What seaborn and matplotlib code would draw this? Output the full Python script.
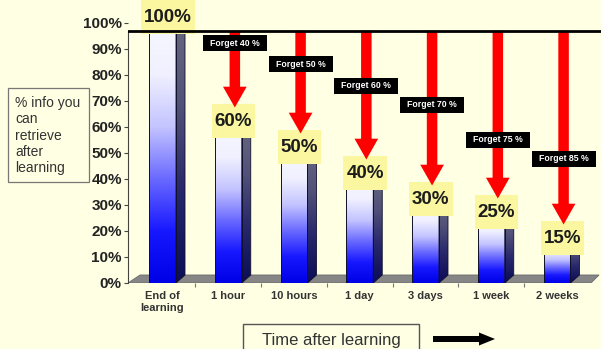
import numpy as np
import pandas as pd
import matplotlib
matplotlib.use("Agg")
import matplotlib.pyplot as plt
import seaborn as sns
from matplotlib.patches import Polygon, Rectangle, FancyArrow
from matplotlib.colors import LinearSegmentedColormap

# ---------------- data ----------------
categories = ["End of\nlearning", "1 hour", "10 hours", "1 day", "3 days", "1 week", "2 weeks"]
retained = [100, 60, 50, 40, 30, 25, 15]
value_labels = ["100%", "60%", "50%", "40%", "30%", "25%", "15%"]
forget_labels = ["Forget 40 %", "Forget 50 %", "Forget 60 %", "Forget 70 %", "Forget 75 %", "Forget 85 %"]
forget_label_y = [92.3, 84.2, 75.8, 68.5, 55, 47.7]
y_ticks = [0, 10, 20, 30, 40, 50, 60, 70, 80, 90, 100]
y_tick_labels = ["0%", "10%", "20%", "30%", "40%", "50%", "60%", "70%", "80%", "90%", "100%"]
y_box_text = "% info you\ncan\nretrieve\nafter\nlearning"
x_box_text = "Time after learning"

# ---------------- style ----------------
BG = "#FFFFE3"
LABEL_BG = "#FAF7A0"
sns.set_style("white")
plt.rcParams["font.family"] = ["Liberation Sans", "DejaVu Sans"]

W, H = 601, 349
fig = plt.figure(figsize=(W / 100, H / 100), dpi=100, facecolor=BG)
ax = fig.add_axes([128 / W, 66 / H, (W - 128) / W, 104 * 2.6 / H])
ax.set_facecolor("none")

df = pd.DataFrame({"when": categories, "pct": retained})
sns.barplot(data=df, x="when", y="pct", width=0.41, color="#0000FF", saturation=1,
            edgecolor="#10102a", linewidth=0.7, ax=ax, zorder=3)

front_cmap = LinearSegmentedColormap.from_list(
    "front", ["#0000E6", "#1818FF", "#6A6AFF", "#C4C4FF", "#F0F0FF", "#F8F8FF"])
side_cmap = LinearSegmentedColormap.from_list(
    "side", ["#0c0c58", "#26266a", "#52527a", "#6a6a80"])
grad = np.linspace(0, 1, 256).reshape(-1, 1)

DX = 0.137   # depth offset (x units)
DY = 3.08    # depth offset (% units)

# floor
floor = Polygon([(-0.525, 0), (-0.342, DY), (6.639, DY), (6.517, 0)], closed=True,
                facecolor="#868686", edgecolor="#6a6a6a", lw=0.6, zorder=1)
ax.add_patch(floor)

for bar in ax.containers[0]:
    x0 = bar.get_x()
    w = bar.get_width()
    h = bar.get_height()
    x1 = x0 + w
    bar.set_facecolor("none")
    im = ax.imshow(grad, extent=[x0, x1, 0, h], origin="lower", aspect="auto",
                   cmap=front_cmap, zorder=2, interpolation="bilinear")
    im.set_clip_path(bar)
    side = Polygon([(x1, 0), (x1 + DX, DY), (x1 + DX, h + DY), (x1, h)], closed=True,
                   facecolor="none", edgecolor="#10102a", lw=0.6, zorder=3)
    ax.add_patch(side)
    ims = ax.imshow(grad, extent=[x1, x1 + DX, 0, h + DY], origin="lower", aspect="auto",
                    cmap=side_cmap, zorder=2, interpolation="bilinear")
    ims.set_clip_path(side)

ax.set_xlim(-0.525, (W - 162.5) / 65.75)
ax.set_ylim(0, 104)

# value labels
value_texts = []
for i, (v, lbl) in enumerate(zip(retained, value_labels)):
    t = ax.text(i + 0.08, v + 2.3, lbl, ha="center", va="center", fontsize=13.5,
                fontweight="bold", color="#1c1c1c", zorder=5.2)
    value_texts.append(t)

# red arrows and forget labels
forget_texts = []
for i in range(1, len(retained)):
    tip = retained[i] + 7.5
    arr = FancyArrow(i + 0.1, 97, 0, tip - 97, width=0.16, head_width=0.36,
                     head_length=8, length_includes_head=True,
                     fc="#FF0000", ec="none", zorder=5.5)
    ax.add_patch(arr)
    t = ax.text(i + 0.1, forget_label_y[i - 1], forget_labels[i - 1], ha="center", va="center",
                fontsize=6.3, fontweight="bold", color="white", zorder=7.2)
    forget_texts.append(t)

# top line
ax.axhline(97, color="black", lw=2, zorder=6)

for s in ["top", "right", "bottom"]:
    ax.spines[s].set_visible(False)
ax.spines["left"].set_bounds(0, 97)
ax.spines["left"].set_color("#444444")
ax.spines["left"].set_linewidth(0.8)

ax.set_yticks(y_ticks)
ax.set_yticklabels(y_tick_labels, fontsize=11, fontweight="bold", color="#222222")
ax.tick_params(axis="y", left=True, length=3, width=0.8, color="#444444", pad=1.5)

ax.set_xticks(range(len(categories)))
ax.set_xticklabels(categories, fontsize=8, fontweight="bold", color="#333333", linespacing=1.25)
ax.set_xticks(np.arange(0.5, len(categories) - 1, 1), minor=True)
ax.tick_params(axis="x", which="major", length=0, pad=5.5)
ax.tick_params(axis="x", which="minor", bottom=True, length=3, width=0.8, color="#777777")
ax.set_xlabel("")
ax.set_ylabel("")

# boxes behind labels, sized in pixels around the rendered text
fig.canvas.draw()
renderer = fig.canvas.get_renderer()
inv = ax.transData.inverted()


def box_behind(text, width_px, height_px, color, z):
    bb = text.get_window_extent(renderer)
    cx, cy = (bb.x0 + bb.x1) / 2, (bb.y0 + bb.y1) / 2
    (dx0, dy0) = inv.transform((cx - width_px / 2, cy - height_px / 2))
    (dx1, dy1) = inv.transform((cx + width_px / 2, cy + height_px / 2))
    ax.add_patch(Rectangle((dx0, dy0), dx1 - dx0, dy1 - dy0, facecolor=color,
                           edgecolor="none", zorder=z, clip_on=False))


for t in value_texts:
    bb = t.get_window_extent(renderer)
    box_behind(t, bb.width + 6, 34, LABEL_BG, 5)

for t in forget_texts:
    bb = t.get_window_extent(renderer)
    box_behind(t, max(64, bb.width + 12), 16, "black", 7)

# y "label" box
fig.patches.append(Rectangle((8 / W, 1 - 182 / H), 81 / W, 94 / H, transform=fig.transFigure,
                             fill=False, edgecolor="#777777", lw=0.9))
fig.text(15 / W, 1 - 135.5 / H, y_box_text, ha="left", va="center", fontsize=10,
         color="#333333", linespacing=1.22)

# x "label" box and arrow
fig.patches.append(Rectangle((243 / W, -5 / H), 176 / W, 30 / H, transform=fig.transFigure,
                             fill=False, edgecolor="#555555", lw=1.0))
fig.text(331 / W, 1 - 340 / H, x_box_text, ha="center", va="center", fontsize=12,
         color="#333333")
fig.patches.append(FancyArrow(433 / W, 1 - 339 / H, 62 / W, 0, width=6 / H, head_width=13 / H,
                              head_length=16 / W, length_includes_head=True,
                              transform=fig.transFigure, fc="black", ec="none"))

fig.savefig("out.png", dpi=100, facecolor=BG)
